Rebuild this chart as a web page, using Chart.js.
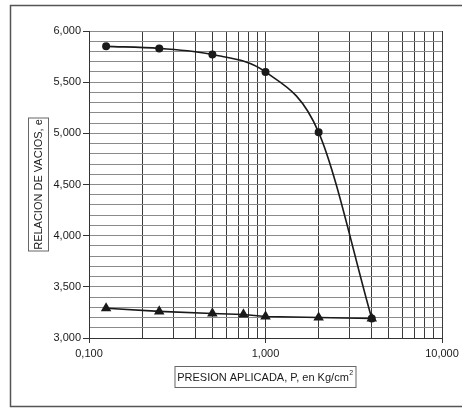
<!DOCTYPE html>
<html>
<head>
<meta charset="utf-8">
<script src="https://cdn.jsdelivr.net/npm/chart.js@4.4.1/dist/chart.umd.min.js"></script>
<style>
  html, body { margin: 0; padding: 0; background: #fff; }
  #wrap { position: relative; width: 464px; height: 410px; }
</style>
</head>
<body>
<div id="wrap"><canvas id="chart" width="464" height="410"></canvas></div>
<script>
// curva de compresibilidad: presion (kg/cm2) vs relacion de vacios
const cargaP = [0.125, 0.25, 0.5, 1, 2, 4];
const cargaE = [5.85, 5.83, 5.77, 5.60, 5.01, 3.19];
const descargaP = [0.125, 0.25, 0.5, 0.75, 1, 2, 4];
const descargaE = [3.29, 3.26, 3.24, 3.23, 3.21, 3.20, 3.19];
const xDecadas = [0.1, 1, 10];
const yEtiquetas = [3.0, 3.5, 4.0, 4.5, 5.0, 5.5, 6.0];
const yPaso = 0.1;

const FONT = "'Liberation Sans', Arial, sans-serif";

function fmt(v) {
    return v.toFixed(3).replace('.', ',');
}
function enLista(v, lista) {
    return lista.some(t => Math.abs(t - v) < 1e-9);
}

// marco y titulos de ejes con recuadro
const marcos = {
    id: 'marcos',
    afterDraw(chart) {
        const c = chart.ctx;
        const a = chart.chartArea;
        c.save();
        c.strokeStyle = '#555';
        c.lineWidth = 1.5;
        c.beginPath();
        c.moveTo(462, 5.5);
        c.lineTo(10.5, 5.5);
        c.lineTo(10.5, 406.5);
        c.lineTo(462, 406.5);
        c.stroke();

        c.fillStyle = '#1a1a1a';
        c.font = '11px ' + FONT;
        c.lineWidth = 1;
        c.strokeStyle = '#666';

        // titulo eje y
        const cy = (a.top + a.bottom) / 2;
        const cx = a.left - 51;
        c.strokeRect(28.5, cy - 66.5, 20, 133);
        c.translate(cx, cy);
        c.rotate(-Math.PI / 2);
        c.textAlign = 'center';
        c.textBaseline = 'middle';
        c.fillText('RELACION DE VACIOS, e', 0, 1);
        c.setTransform(1, 0, 0, 1, 0, 0);

        // titulo eje x
        const mx = (a.left + a.right) / 2;
        const my = a.bottom + 39;
        c.strokeRect(mx - 90.5, my - 10.5, 181, 21);
        const txt = 'PRESION APLICADA, P, en Kg/cm';
        c.textAlign = 'left';
        const w = c.measureText(txt).width;
        const x0 = mx - (w + 5) / 2;
        c.fillText(txt, x0, my + 1);
        c.font = '7px ' + FONT;
        c.fillText('2', x0 + w + 0.5, my - 4);
        c.restore();
    }
};

const ctx = document.getElementById('chart');
const chart = new Chart(ctx, {
    type: 'scatter',
    data: {
        datasets: [{
            data: cargaP.map((p, i) => ({x: p, y: cargaE[i]})),
            showLine: true,
            cubicInterpolationMode: 'monotone',
            borderColor: '#1a1a1a',
            borderWidth: 1.6,
            pointStyle: 'circle',
            pointRadius: 3.2,
            pointBackgroundColor: '#1a1a1a',
            pointBorderColor: '#1a1a1a'
        }, {
            data: descargaP.map((p, i) => ({x: p, y: descargaE[i]})),
            showLine: true,
            tension: 0,
            borderColor: '#1a1a1a',
            borderWidth: 1.6,
            pointStyle: 'triangle',
            pointRadius: 4.5,
            pointBackgroundColor: '#1a1a1a',
            pointBorderColor: '#1a1a1a'
        }]
    },
    options: {
        animation: false,
        responsive: false,
        layout: { padding: { left: 0, top: 31, right: 22, bottom: 0 } },
        plugins: {
            legend: { display: false },
            tooltip: { enabled: false }
        },
        scales: {
            x: {
                type: 'logarithmic',
                min: xDecadas[0],
                max: xDecadas[xDecadas.length - 1],
                afterBuildTicks(scale) {
                    const t = [];
                    for (let d = 0; d < xDecadas.length - 1; d++) {
                        for (let k = 1; k <= 9; k++) t.push({value: xDecadas[d] * k});
                    }
                    t.push({value: xDecadas[xDecadas.length - 1]});
                    scale.ticks = t;
                },
                afterFit(scale) { scale.height = 72; },
                grid: {
                    color: '#3a3a3a',
                    lineWidth: 1,
                    tickLength: 5,
                    tickColor: c => enLista(c.tick.value, xDecadas) ? '#333' : 'rgba(0,0,0,0)'
                },
                border: { display: true, color: '#333', width: 1 },
                ticks: {
                    autoSkip: false,
                    maxRotation: 0,
                    padding: 4,
                    color: '#1a1a1a',
                    font: { family: FONT, size: 11 },
                    callback: v => enLista(v, xDecadas) ? fmt(v) : ''
                }
            },
            y: {
                min: yEtiquetas[0],
                max: yEtiquetas[yEtiquetas.length - 1],
                afterBuildTicks(scale) {
                    const t = [];
                    const n = Math.round((scale.max - scale.min) / yPaso);
                    for (let i = 0; i <= n; i++) {
                        t.push({value: Math.round((scale.min + i * yPaso) * 10) / 10});
                    }
                    scale.ticks = t;
                },
                afterFit(scale) { scale.width = 89; },
                grid: {
                    color: '#8a8a8a',
                    lineWidth: 1,
                    tickLength: 6,
                    tickColor: c => enLista(c.tick.value, yEtiquetas) ? '#333' : 'rgba(0,0,0,0)'
                },
                border: { display: true, color: '#333', width: 1 },
                ticks: {
                    autoSkip: false,
                    padding: 2,
                    color: '#1a1a1a',
                    font: { family: FONT, size: 11 },
                    callback: v => enLista(v, yEtiquetas) ? fmt(v) : ''
                }
            }
        }
    },
    plugins: [marcos]
});
</script>
</body>
</html>
